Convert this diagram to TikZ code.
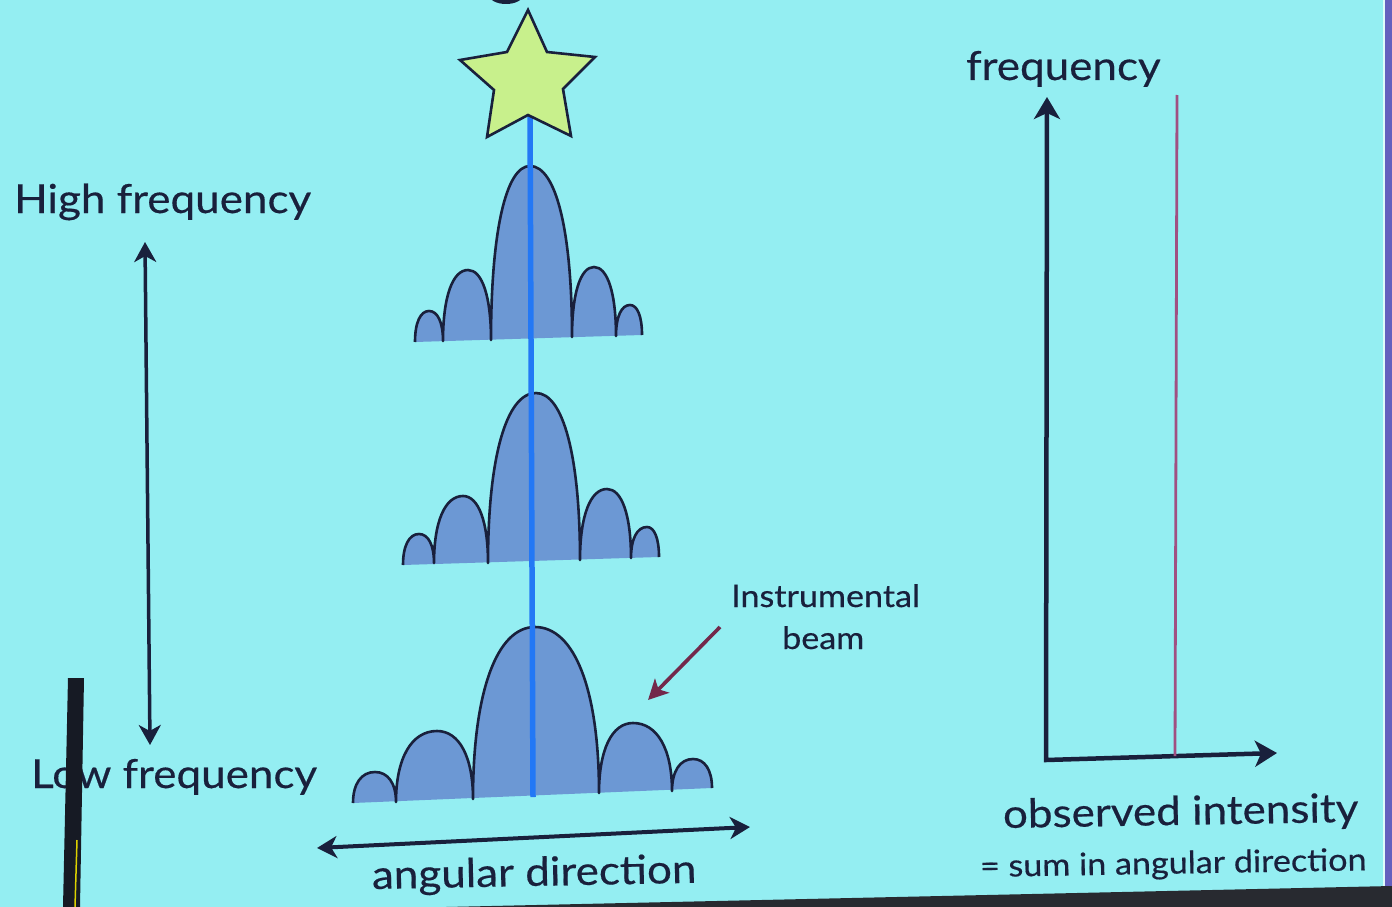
\documentclass[tikz,border=0pt]{standalone}
\usepackage{fontspec}
\setmainfont[FakeStretch=1.1,FakeBold=0.4]{Lato}
\usetikzlibrary{arrows.meta}
\definecolor{bg}{RGB}{148,238,242}
\definecolor{ink}{RGB}{25,32,60}
\definecolor{lobefill}{RGB}{108,152,212}
\definecolor{beamblue}{RGB}{35,120,245}
\definecolor{stargreen}{RGB}{200,240,140}
\definecolor{maroon}{RGB}{115,40,75}
\definecolor{specline}{RGB}{160,80,130}
\definecolor{edgeblue}{RGB}{100,95,190}
\definecolor{band}{RGB}{40,42,48}
\definecolor{stick}{RGB}{22,26,36}
\newcommand{\lobearc}[6]{.. controls (#1,{#4+0.38*(#2-#4)}) and ({#3-0.62*(#3-#1)},#4) .. (#3,#4) .. controls ({#3+0.62*(#5-#3)},#4) and (#5,{#4+0.38*(#6-#4)}) .. (#5,#6)}
\tikzset{
  lbl/.style={inner sep=0pt, anchor=base west, text=ink},
  big/.style={font=\fontsize{40}{47}\selectfont},
  small/.style={font=\fontsize{31}{37}\selectfont},
  lobeline/.style={draw=ink, line width=2.6pt, line join=round},
  dblaxis/.style={draw=ink, line width=3.5pt, {Stealth[length=20pt,width=22pt,inset=6pt]}-{Stealth[length=20pt,width=22pt,inset=6pt]}},
}
\begin{document}
\begin{tikzpicture}[x=1pt,y=-1pt]
\useasboundingbox (0,0) rectangle (1392,907);
\fill[bg] (0,0) rectangle (1392,907);
% slide edges
\fill[edgeblue] (1385,0) rectangle (1392,888);
\draw[white!70!bg, line width=1.2pt] (1384,0) -- (1384,888);
\fill[band] (446,907) -- (1392,886) -- (1392,907) -- cycle;
% top blob
\fill[ink] (506,-5) ellipse [x radius=17pt, y radius=9pt];

% lobes: top
\fill[lobefill] (415,342) \lobearc{415}{342}{429}{311}{443}{341} \lobearc{443}{341}{468}{270}{491}{340} \lobearc{491}{340}{530}{166}{572}{337} \lobearc{572}{337}{594}{267}{616}{336} \lobearc{616}{336}{630}{305}{642}{335} -- cycle;
\draw[lobeline] (415,342) \lobearc{415}{342}{429}{311}{443}{341} \lobearc{443}{341}{468}{270}{491}{340} \lobearc{491}{340}{530}{166}{572}{337} \lobearc{572}{337}{594}{267}{616}{336} \lobearc{616}{336}{630}{305}{642}{335};
% middle
\fill[lobefill] (403,565) \lobearc{403}{565}{419}{534}{434}{563} \lobearc{434}{563}{463}{496}{488}{563} \lobearc{488}{563}{536}{393}{580}{560} \lobearc{580}{560}{607}{489}{631}{558} \lobearc{631}{558}{647}{527}{659}{557} -- cycle;
\draw[lobeline] (403,565) \lobearc{403}{565}{419}{534}{434}{563} \lobearc{434}{563}{463}{496}{488}{563} \lobearc{488}{563}{536}{393}{580}{560} \lobearc{580}{560}{607}{489}{631}{558} \lobearc{631}{558}{647}{527}{659}{557};
% bottom
\fill[lobefill] (353,803) \lobearc{353}{803}{375}{772}{396}{802} \lobearc{396}{802}{437}{731}{473}{799} \lobearc{473}{799}{535}{627}{599}{793} \lobearc{599}{793}{633}{723}{672}{791} \lobearc{672}{791}{693}{759}{712}{788} -- cycle;
\draw[lobeline] (353,803) \lobearc{353}{803}{375}{772}{396}{802} \lobearc{396}{802}{437}{731}{473}{799} \lobearc{473}{799}{535}{627}{599}{793} \lobearc{599}{793}{633}{723}{672}{791} \lobearc{672}{791}{693}{759}{712}{788};

% source line
\coordinate (srcbot) at (533,797);
\coordinate (srctop) at (530,112);
\draw[beamblue, line width=5.5pt] (srctop) -- (srcbot);
% star
\filldraw[fill=stargreen, draw=ink, line width=2.6pt, line join=miter]
  (528,10) -- (547,52) -- (595,57) -- (563,89) -- (571,136) -- (528,115)
  -- (487,137) -- (494,90) -- (460,60) -- (507,52) -- cycle;

% left arrow
\coordinate (hf) at (145,242);
\coordinate (lf) at (150,745);
\draw[dblaxis] (hf) -- (lf);
\node[lbl,big] (high) at (14,213) {High frequency};
\node[lbl,big] (low) at (31,788) {Low frequency};

% angular arrow
\coordinate (angl) at (317,848);
\coordinate (angr) at (750,827);
\draw[dblaxis, line width=4pt] (angl) -- (angr);
\node[lbl,big,rotate=1.1] (ang) at (372,889) {angular direction};

% beam annotation
\node[lbl,small] (instr) at (731,607) {Instrumental};
\node[lbl,small] (beam) at (782,649) {beam};
\coordinate (bs) at (720,627);
\coordinate (bt) at (648,700);
\draw[maroon, line width=3.6pt, -{Stealth[length=20pt,width=20pt,inset=5pt]}] (bs) -- (bt);

% right axes
\coordinate (ytop) at (1047,97);
\coordinate (corner) at (1046,760);
\coordinate (xend) at (1277,753);
\draw[ink, line width=4.5pt, line join=miter, {Stealth[length=22pt,width=26pt,inset=6pt]}-{Stealth[length=22pt,width=26pt,inset=6pt]}] (ytop) -- (corner) -- (xend);
\coordinate (stop) at (1177,95);
\coordinate (sbot) at (1175,756);
\draw[specline, line width=2.8pt] (stop) -- (sbot);
\node[lbl,big] (freq) at (966,80) {frequency};
\node[lbl,big,rotate=1] (obs) at (1003,828) {observed intensity};
\node[lbl,small,rotate=1] (sum) at (980,877) {= sum in angular direction};

% stick in foreground
\fill[stick] (68,678) -- (84,678) -- (80,907) -- (63,907) -- cycle;
\draw[yellow!70!olive, line width=1.5pt] (77,840) -- (75,907);
\end{tikzpicture}
\end{document}
